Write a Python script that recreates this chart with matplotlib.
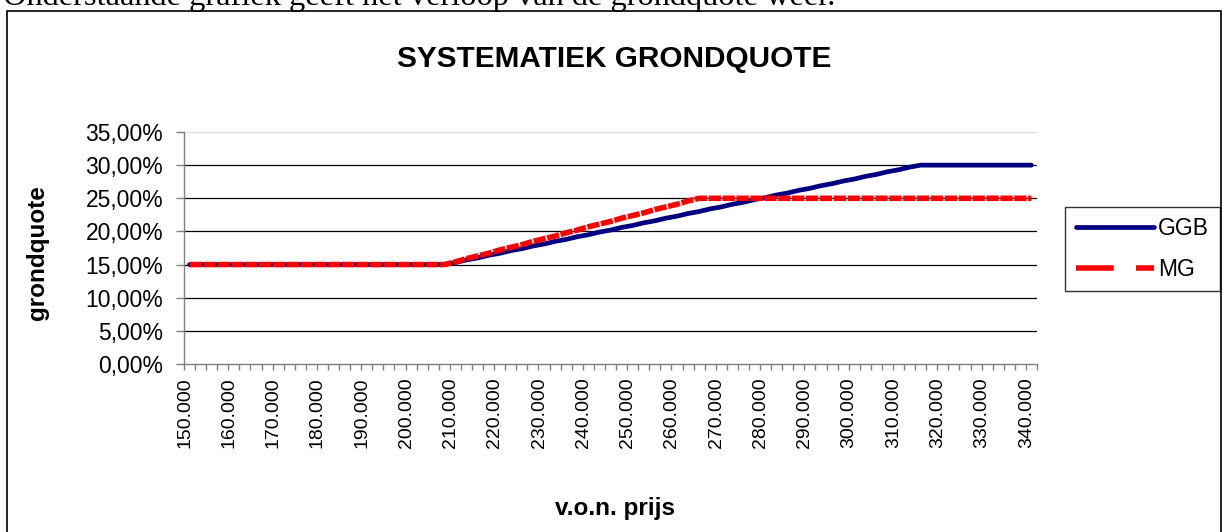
import matplotlib.pyplot as plt
from matplotlib.lines import Line2D
from matplotlib.patches import Rectangle
import matplotlib.transforms as mtransforms
import numpy as np

W, H = 1223, 532

# v.o.n. prijs categories (stap 2.500)
prijzen = list(range(150000, 340001, 2500))

# grondquote in procenten
ggb = [15.0] * 24 + [
    15.3, 15.7, 16.0, 16.4, 16.7, 17.1, 17.4, 17.8, 18.1, 18.5,
    18.8, 19.2, 19.5, 19.9, 20.2, 20.6, 20.9, 21.3, 21.6, 22.0,
    22.3, 22.7, 23.0, 23.4, 23.7, 24.1, 24.4, 24.8, 25.1, 25.5,
    25.8, 26.2, 26.5, 26.9, 27.2, 27.6, 27.9, 28.3, 28.6, 29.0,
    29.3, 29.7] + [30.0] * 11
mg = [15.0] * 24 + [
    15.4, 15.9, 16.3, 16.7, 17.2, 17.6, 18.0, 18.5, 18.9, 19.3,
    19.8, 20.2, 20.7, 21.1, 21.5, 22.0, 22.4, 22.8, 23.3, 23.7,
    24.1, 24.6] + [25.0] * 31

y_ticks = [0, 5, 10, 15, 20, 25, 30, 35]
y_labels = ['0,00%', '5,00%', '10,00%', '15,00%', '20,00%', '25,00%', '30,00%', '35,00%']

plt.rcParams['font.family'] = ['Liberation Sans', 'DejaVu Sans']

fig = plt.figure(figsize=(W / 100, H / 100), dpi=100)

# kader rond de grafiek (onderkant valt buiten beeld)
fig.patches.append(Rectangle((7 / W, -0.1), (1221 - 7) / W, 1.1 - 11 / H,
                             transform=fig.transFigure, fill=False,
                             edgecolor='black', lw=1.2))

# tekst boven de grafiek, half afgesneden
fig.text(3 / W, 1 - 5 / H, 'Onderstaande grafiek geeft het verloop van de grondquote weer.',
         family='Liberation Serif', fontsize=23.3, va='baseline', ha='left')

ax = fig.add_axes([184 / W, 1 - 364 / H, (1037 - 184) / W, (364 - 132) / H])
x = np.arange(len(prijzen))

ax.plot(x, ggb, color='#000080', lw=3.4, solid_capstyle='round', zorder=3)
ax.plot(x, mg, color='#ff0000', lw=4, dashes=(2.2, 0.3), zorder=4)

ax.set_xlim(-0.5, len(prijzen) - 0.5)
ax.set_ylim(0, 35)

# horizontale rasterlijnen
for v in y_ticks[1:-1]:
    ax.axhline(v, color='black', lw=0.9, zorder=1)
ax.axhline(35, color='#dddddd', lw=0.9, zorder=1)

for s in ['top', 'right']:
    ax.spines[s].set_visible(False)
for s in ['left', 'bottom']:
    ax.spines[s].set_color('#808080')
    ax.spines[s].set_linewidth(1.0)

ax.set_yticks(y_ticks, y_labels, fontsize=16.5)
ax.tick_params(axis='y', length=5.8, width=1, color='#808080', pad=9.2)

# tickstreepjes tussen de categorieen, labels elke 10.000
ax.set_xticks(np.arange(-0.5, len(prijzen), 1))
ax.set_xticklabels([])
ax.tick_params(axis='x', which='major', length=4, width=1, color='#808080')
lab_pos = x[::4]
lab_txt = [f"{p:,}".replace(',', '.') for p in prijzen[::4]]
ax.set_xticks(lab_pos, lab_txt, minor=True, rotation=90, fontsize=14)
ax.tick_params(axis='x', which='minor', length=0, pad=9.5)
offset = mtransforms.ScaledTranslation(-5 / 100, 0, fig.dpi_scale_trans)
for lbl in ax.get_xticklabels(minor=True):
    lbl.set_transform(lbl.get_transform() + offset)

fig.text(614 / W, 1 - 59 / H, 'SYSTEMATIEK GRONDQUOTE', ha='center', va='center',
         fontsize=21.4, weight='bold')
fig.text(38 / W, 1 - 253 / H, 'grondquote', rotation=90, ha='center', va='center',
         fontsize=17.5, weight='bold')
fig.text(615 / W, 1 - 508 / H, 'v.o.n. prijs', ha='center', va='center',
         fontsize=17.5, weight='bold')

handles = [Line2D([], [], color='#000080', lw=3.4, solid_capstyle='round'),
           Line2D([], [], color='#ff0000', lw=4, dashes=(6.8, 4.0))]
leg = ax.legend(handles, ['GGB', 'MG'], loc='center',
                bbox_to_anchor=((1066 + 1219) / 2 / W, 1 - (208 + 290) / 2 / H),
                bbox_transform=fig.transFigure, fontsize=16.5, frameon=True,
                fancybox=False, edgecolor='black', handlelength=3.4,
                handletextpad=0.2, labelspacing=0.75, borderpad=0.45,
                borderaxespad=0)
leg.get_frame().set_linewidth(1.0)

fig.savefig('out.png', dpi=100, facecolor='white')
